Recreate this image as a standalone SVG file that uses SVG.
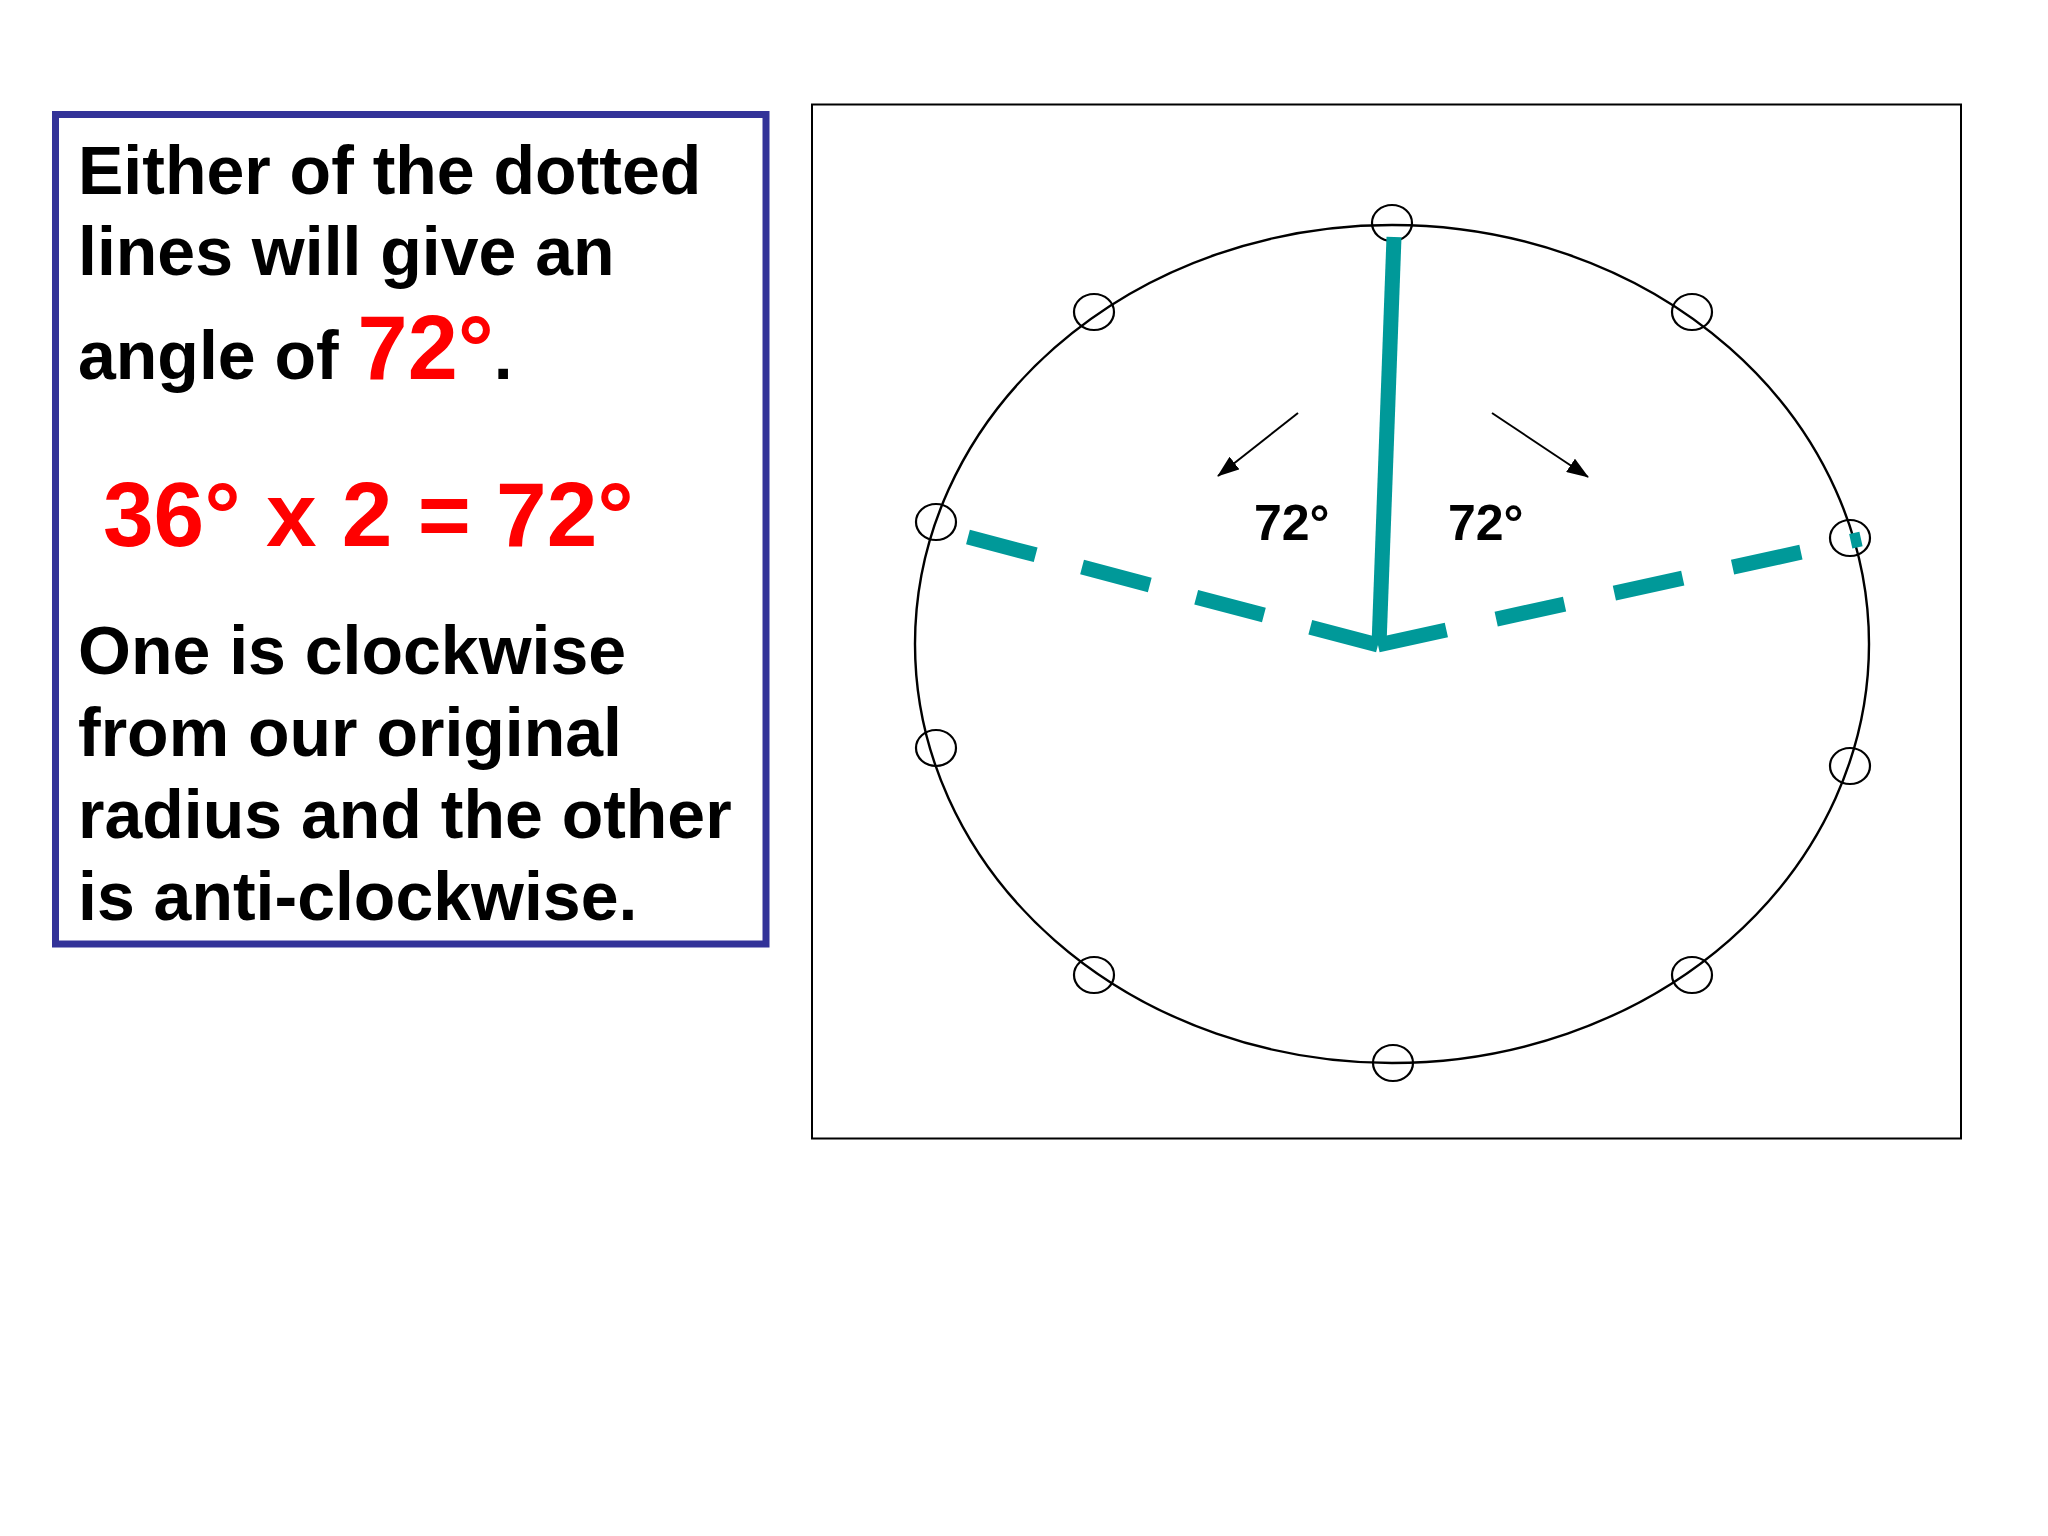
<svg xmlns="http://www.w3.org/2000/svg" width="2048" height="1536" viewBox="0 0 2048 1536">
  <style>
    .txt { font-family: "Liberation Sans", Arial, sans-serif; font-weight: bold; fill: #000000; }
    .big { font-size: 68px; }
    .red { fill: #FF0000; }
    .lbl { font-size: 50px; }
    .node { fill: none; stroke: #000000; stroke-width: 2.2; }
    .teal { fill: none; stroke: #009999; stroke-width: 15; stroke-linecap: butt; }
    .arrow { stroke: #000000; stroke-width: 2; fill: none; marker-end: url(#ah); }
  </style>
  <defs>
    <marker id="ah" viewBox="0 0 22 16" refX="21" refY="8" markerWidth="22" markerHeight="16" markerUnits="userSpaceOnUse" orient="auto">
      <path d="M0,0 L22,8 L0,16 Z" fill="#000000"/>
    </marker>
  </defs>
  <rect width="2048" height="1536" fill="#FFFFFF"/>

  <g id="textbox">
    <rect x="55.5" y="114.5" width="710.5" height="829.5" fill="#FFFFFF" stroke="#333399" stroke-width="7"/>
    <text class="txt big" x="78" y="194">Either of the dotted</text>
    <text class="txt big" x="78" y="275">lines will give an</text>
    <text class="txt big" x="78" y="379">angle of <tspan class="red" font-size="90">72°</tspan>.</text>
    <text class="txt red" font-size="91" x="103" y="546">36° x 2 = 72°</text>
    <text class="txt big" x="78" y="674">One is clockwise</text>
    <text class="txt big" x="78" y="756">from our original</text>
    <text class="txt big" x="78" y="838">radius and the other</text>
    <text class="txt big" x="78" y="920">is anti-clockwise.</text>
  </g>

  <g id="frame">
    <rect x="812" y="104.5" width="1149" height="1034" fill="#FFFFFF" stroke="#000000" stroke-width="2"/>
  </g>

  <g id="circle">
    <ellipse cx="1392" cy="644" rx="477" ry="419" fill="none" stroke="#000000" stroke-width="2.4"/>
  </g>

  <g id="nodes">
    <ellipse id="node-top" class="node" cx="1392" cy="223" rx="20" ry="18"/>
    <ellipse id="node-upper-left" class="node" cx="1094" cy="312" rx="20" ry="18"/>
    <ellipse id="node-left" class="node" cx="936" cy="522" rx="20" ry="18"/>
    <ellipse id="node-lower-left" class="node" cx="936" cy="748" rx="20" ry="18"/>
    <ellipse id="node-bottom-left" class="node" cx="1094" cy="975" rx="20" ry="18"/>
    <ellipse id="node-bottom" class="node" cx="1393" cy="1063" rx="20" ry="18"/>
    <ellipse id="node-bottom-right" class="node" cx="1692" cy="975" rx="20" ry="18"/>
    <ellipse id="node-lower-right" class="node" cx="1850" cy="766" rx="20" ry="18"/>
    <ellipse id="node-right" class="node" cx="1850" cy="538" rx="20" ry="18"/>
    <ellipse id="node-upper-right" class="node" cx="1692" cy="312" rx="20" ry="18"/>
  </g>

  <g id="connectors">
    <path class="teal" d="M1394,237 L1379,645"/>
    <path class="teal" d="M1378,645 L964,536" stroke-dasharray="70 48"/>
    <path class="teal" d="M1378,645 L1861,539" stroke-dasharray="70 51"/>
    <path class="arrow" d="M1298,413 L1218,476"/>
    <path class="arrow" d="M1492,413 L1588,477"/>
  </g>

  <g id="labels">
    <text class="txt lbl" x="1254" y="540">72°</text>
    <text class="txt lbl" x="1448" y="540">72°</text>
  </g>
</svg>
